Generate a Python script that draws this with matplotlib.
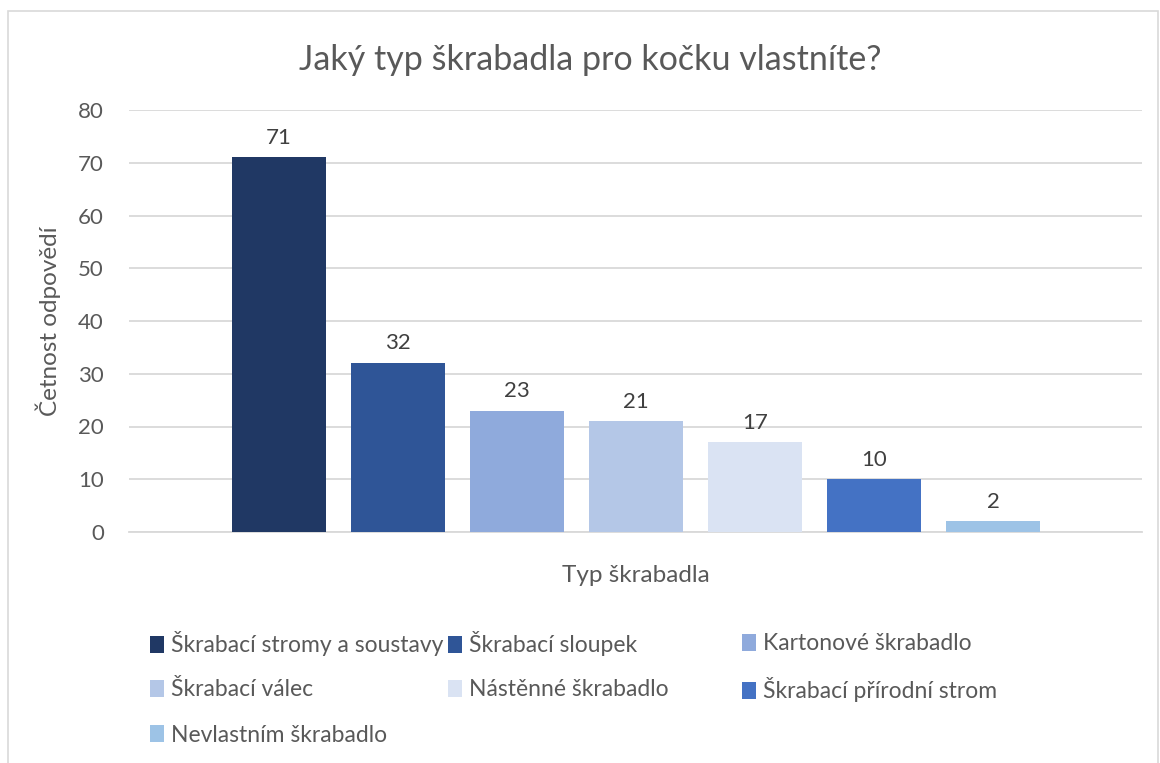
import matplotlib.pyplot as plt
from matplotlib.patches import Patch, Rectangle

TITLE = "Jaký typ škrabadla pro kočku vlastníte?"
X_LABEL = "Typ škrabadla"
Y_LABEL = "Četnost odpovědí"

CATEGORIES = [
    "Škrabací stromy a soustavy",
    "Škrabací sloupek",
    "Kartonové škrabadlo",
    "Škrabací válec",
    "Nástěnné škrabadlo",
    "Škrabací přírodní strom",
    "Nevlastním škrabadlo",
]
COUNTS = [71, 32, 23, 21, 17, 10, 2]
COLORS = [
    "#203864",
    "#2F5597",
    "#8FAADC",
    "#B4C7E7",
    "#DAE3F3",
    "#4472C4",
    "#9DC3E6",
]
Y_TICKS = [0, 10, 20, 30, 40, 50, 60, 70, 80]

TEXT_COLOR = "#595959"
GRID_COLOR = "#D9D9D9"

plt.rcParams["font.family"] = ["Lato", "DejaVu Sans"]

fig = plt.figure(figsize=(11.6, 7.63), dpi=100)
fig.patches.append(
    Rectangle(
        (8 / 1160, -0.01),
        1150 / 1160,
        1 - 11 / 763 + 0.01,
        transform=fig.transFigure,
        fill=False,
        edgecolor=GRID_COLOR,
        linewidth=1.2,
    )
)

ax = fig.add_axes([129 / 1160, 1 - 532 / 763, 1013 / 1160, 422 / 763])

positions = list(range(len(COUNTS)))
bars = ax.bar(positions, COUNTS, width=0.79, color=COLORS, zorder=3)

for bar, value in zip(bars, COUNTS):
    ax.annotate(
        str(value),
        (bar.get_x() + bar.get_width() / 2, value),
        xytext=(0, 7),
        textcoords="offset points",
        ha="center",
        va="bottom",
        fontsize=16,
        color="#404040",
    )

ax.set_xlim(-1.26, 7.25)
ax.set_ylim(0, 80)
ax.set_yticks(Y_TICKS)
ax.set_xticks([])
ax.yaxis.grid(True, color=GRID_COLOR, linewidth=1.3, zorder=0)
ax.tick_params(axis="y", length=0, pad=18, labelsize=16, labelcolor=TEXT_COLOR)
for side in ["top", "right", "left"]:
    ax.spines[side].set_visible(False)
ax.spines["bottom"].set_color(GRID_COLOR)
ax.spines["bottom"].set_linewidth(1.3)

ax.set_xlabel(X_LABEL, fontsize=17.5, color=TEXT_COLOR, labelpad=24)
ax.set_ylabel(Y_LABEL, fontsize=17.5, color=TEXT_COLOR, labelpad=12)

fig.text(0.509, 1 - 60 / 763, TITLE, ha="center", va="center",
         fontsize=24.5, color=TEXT_COLOR)

# legend: Excel row-major order, three equal columns, one entry per legend
column_x = [150, 448, 742]
row_y = [644, 690, 735]
for i, (color, label) in enumerate(zip(COLORS, CATEGORIES)):
    row, col = divmod(i, 3)
    fig.legend(
        handles=[Patch(facecolor=color, label=label)],
        loc="center left",
        bbox_to_anchor=(column_x[col] / 1160, 1 - row_y[row] / 763),
        frameon=False,
        fontsize=16.5,
        labelcolor=TEXT_COLOR,
        handlelength=0.6,
        handleheight=0.7,
        handletextpad=0.3,
        borderpad=0,
        borderaxespad=0,
    )

fig.savefig("out.png", dpi=100)
